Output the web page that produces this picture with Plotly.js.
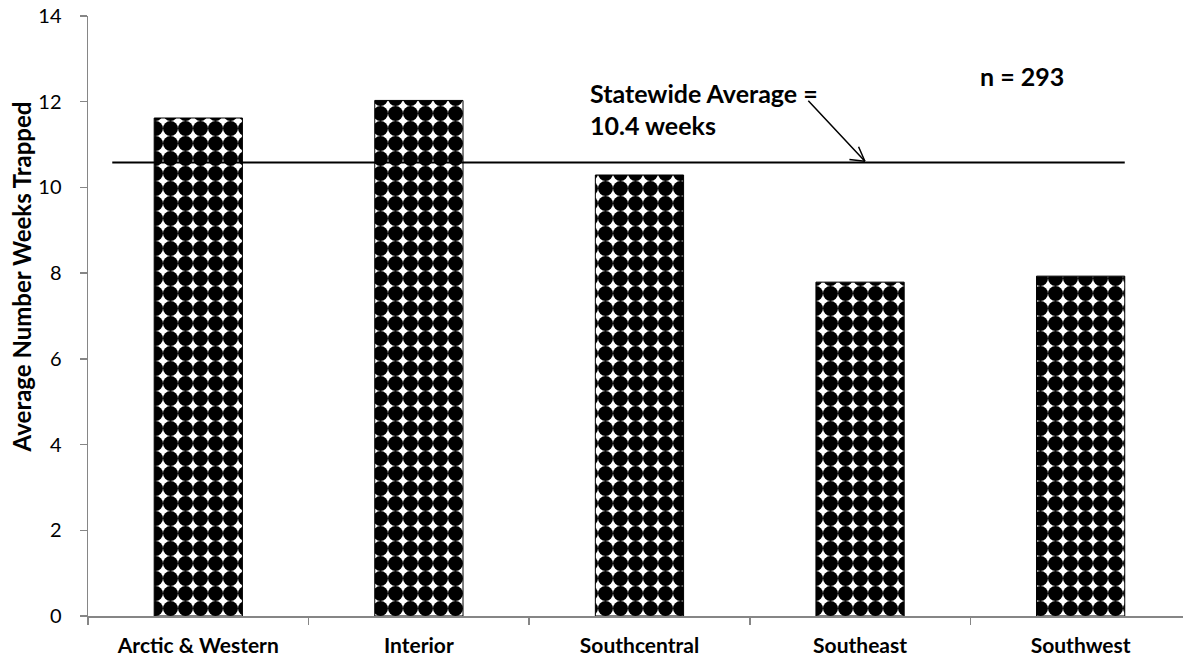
<!DOCTYPE html>
<html>
<head>
<meta charset="utf-8">
<script src="https://cdn.plot.ly/plotly-3.0.1.min.js"></script>
<style>html,body{margin:0;padding:0;background:#fff;}#chart{width:1183px;height:659px;}</style>
</head>
<body>
<div id="chart"></div>
<script>
const regions = ["Arctic & Western", "Interior", "Southcentral", "Southeast", "Southwest"];
const avgWeeks = [11.62, 12.03, 10.29, 7.79, 7.93];
const statewideLine = 10.58;
const statewideLabel1 = "Statewide Average =";
const statewideLabel2 = "10.4 weeks";
const sampleLabel = "n = 293";
const yTitle = "Average Number Weeks Trapped";
const yTicks = [0, 2, 4, 6, 8, 10, 12, 14];

const FONT = "Lato, 'Open Sans', sans-serif";
const AXIS_GRAY = "#868686";

const trace = {
  type: "bar",
  x: regions,
  y: avgWeeks,
  width: 0.4,
  marker: {
    color: "#000000",
    line: {color: "#000000", width: 1},
    pattern: {shape: ".", bgcolor: "#ffffff", fgcolor: "#000000", size: 15, solidity: 0.78, fillmode: "replace"}
  },
  hoverinfo: "x+y"
};

const layout = {
  width: 1183, height: 659,
  margin: {l: 88, r: 0, t: 16, b: 43},
  paper_bgcolor: "#ffffff", plot_bgcolor: "#ffffff",
  showlegend: false,
  font: {family: FONT, size: 20, color: "#000000"},
  xaxis: {
    type: "category",
    range: [-0.5, 4.464],
    showline: true, linecolor: AXIS_GRAY, linewidth: 2,
    ticks: "outside", tickson: "boundaries", ticklen: 7, tickcolor: AXIS_GRAY, tickwidth: 1.5,
    showgrid: false, zeroline: false,
    tickfont: {family: FONT, size: 21, color: "#000000", weight: "bold"},
    ticklabelstandoff: 10
  },
  yaxis: {
    range: [0, 14],
    tickvals: yTicks,
    ticktext: yTicks.map(String),
    showline: true, linecolor: AXIS_GRAY, linewidth: 1.5,
    ticks: "outside", ticklen: 7, tickcolor: AXIS_GRAY, tickwidth: 1.5,
    showgrid: false, zeroline: false,
    tickfont: {family: FONT, size: 20, color: "#000000"},
    ticklabelstandoff: 14
  },
  shapes: [
    {type: "line", xref: "x", yref: "y", x0: -0.39, x1: 4.2, y0: statewideLine, y1: statewideLine,
     line: {color: "#000000", width: 2}}
  ],
  annotations: [
    {xref: "paper", yref: "paper", x: -0.0612, y: 0.566, xanchor: "center", yanchor: "middle", textangle: -90,
     text: yTitle, showarrow: false, font: {family: FONT, size: 24, weight: "bold", color: "#000"}},
    {xref: "paper", yref: "paper", x: 0.4566, y: 0.8717, xanchor: "left", yanchor: "middle",
     text: statewideLabel1, showarrow: false, font: {family: FONT, size: 25, weight: "bold", color: "#000"}},
    {xref: "paper", yref: "paper", x: 0.4566, y: 0.8183, xanchor: "left", yanchor: "middle",
     text: statewideLabel2, showarrow: false, font: {family: FONT, size: 25, weight: "bold", color: "#000"}},
    {xref: "paper", yref: "paper", x: 0.893, y: 0.9, xanchor: "right", yanchor: "middle",
     text: sampleLabel, showarrow: false, font: {family: FONT, size: 25, weight: "bold", color: "#000"}},
    {xref: "x", yref: "y", x: 3.022, y: statewideLine + 0.03, text: "", showarrow: true,
     arrowhead: 0, arrowwidth: 1.5, arrowcolor: "#000", ax: -58, ay: -62},
    {xref: "x", yref: "y", x: 3.022, y: statewideLine + 0.03, text: "", showarrow: true,
     arrowhead: 0, arrowwidth: 1.5, arrowcolor: "#000", ax: -7, ay: -16},
    {xref: "x", yref: "y", x: 3.022, y: statewideLine + 0.03, text: "", showarrow: true,
     arrowhead: 0, arrowwidth: 1.5, arrowcolor: "#000", ax: -17, ay: -2}
  ]
};

Plotly.newPlot("chart", [trace], layout, {displayModeBar: false, staticPlot: true});
</script>
</body>
</html>
